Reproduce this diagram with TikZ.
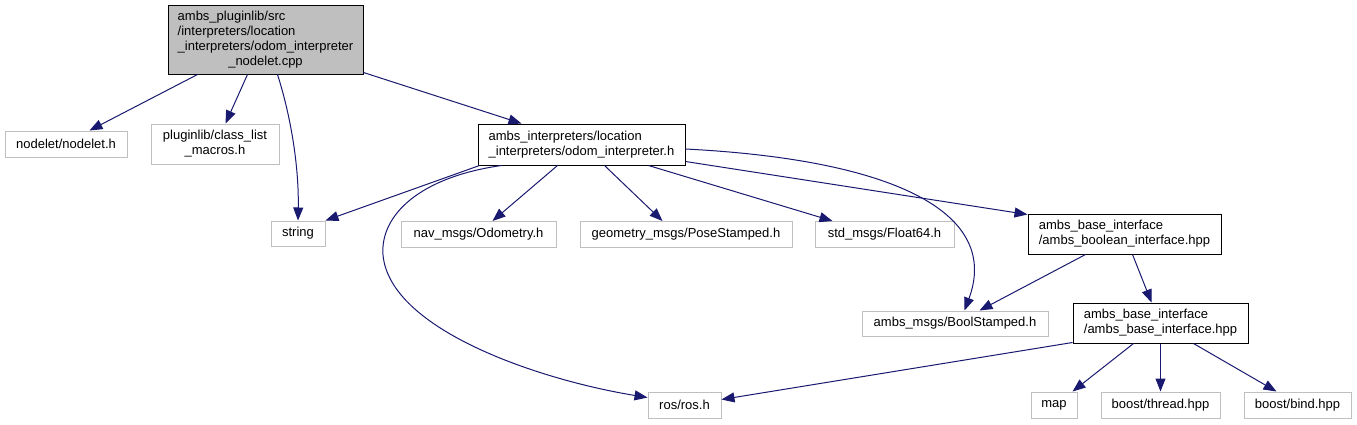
\documentclass[tikz,border=0pt]{standalone}
\usepackage{fontspec}
\setmainfont{Liberation Sans}
\usetikzlibrary{arrows.meta}
\definecolor{edgeblue}{HTML}{191970}
\definecolor{boxgray}{HTML}{BFBFBF}
\newcommand{\lastc}[1]{\multicolumn{1}{@{}c@{}}{#1}}
\tikzset{
  box/.style={draw=boxgray, line width=1pt, fill=white, inner sep=0pt, font=\fontsize{13}{15}\selectfont},
  dbox/.style={box, draw=black},
  rootbox/.style={box, draw=black, fill=boxgray},
  dep/.style={draw=edgeblue, line width=1pt, -{Triangle[length=13pt,width=10pt]}, edgeblue}
}
\begin{document}
\begin{tikzpicture}[x=1pt,y=-1pt]
\useasboundingbox (0,0) rectangle (1357,424);
% nodes
\node[rootbox, minimum width=195pt, minimum height=69pt] (root) at (265.5,39.5)
  {\begin{tabular}{@{}l@{}}ambs\_pluginlib/src\\/interpreters/location\\\_interpreters/odom\_interpreter\\\lastc{\_nodelet.cpp}\end{tabular}};
\node[box, minimum width=122pt, minimum height=26pt] (nodelet) at (66,144) {nodelet/nodelet.h};
\node[box, minimum width=128pt, minimum height=40pt] (macros) at (215,144)
  {\begin{tabular}{@{}l@{}}pluginlib/class\_list\\\lastc{\_macros.h}\end{tabular}};
\node[box, minimum width=54pt, minimum height=25pt] (string) at (298,233.5) {string};
\node[dbox, minimum width=207pt, minimum height=41pt] (interp) at (581.5,144.5)
  {\begin{tabular}{@{}l@{}}ambs\_interpreters/location\\\lastc{\_interpreters/odom\_interpreter.h}\end{tabular}};
\node[box, minimum width=155pt, minimum height=26pt] (nav) at (478.5,234.5) {nav\_msgs/Odometry.h};
\node[box, minimum width=212pt, minimum height=26pt] (geom) at (686,234.5) {geometry\_msgs/PoseStamped.h};
\node[box, minimum width=139pt, minimum height=26pt] (float) at (884.5,234.5) {std\_msgs/Float64.h};
\node[dbox, minimum width=193pt, minimum height=40pt] (boolif) at (1124.5,234)
  {\begin{tabular}{@{}l@{}}ambs\_base\_interface\\\lastc{/ambs\_boolean\_interface.hpp}\end{tabular}};
\node[box, minimum width=186pt, minimum height=25pt] (boolst) at (955,323.5) {ambs\_msgs/BoolStamped.h};
\node[dbox, minimum width=175pt, minimum height=40pt] (baseif) at (1160.5,323)
  {\begin{tabular}{@{}l@{}}ambs\_base\_interface\\\lastc{/ambs\_base\_interface.hpp}\end{tabular}};
\node[box, minimum width=73pt, minimum height=26pt] (ros) at (684.5,405) {ros/ros.h};
\node[box, minimum width=46pt, minimum height=26pt] (map) at (1054,405) {map};
\node[box, minimum width=119pt, minimum height=26pt] (thread) at (1160.5,405) {boost/thread.hpp};
\node[box, minimum width=107pt, minimum height=26pt] (bind) at (1297.5,405) {boost/bind.hpp};
% edges
\draw[dep] ([xshift=30pt]root.south west) -- ([xshift=85pt]nodelet.north west);
\draw[dep] ([xshift=80pt]root.south west) -- ([xshift=75pt]macros.north west);
\draw[dep] ([xshift=110pt]root.south west) .. controls (292,120) and (299,170) .. (string.north);
\draw[dep] ([yshift=2pt]root.south east) -- ([xshift=44pt]interp.north west);
\draw[dep] ([xshift=2pt]interp.south west) -- (string.north east);
\draw[dep] ([xshift=24pt]interp.south west) .. controls (420,177) and (380,215) .. (383,255)
  .. controls (390,330) and (540,380) .. ([yshift=-6pt]ros.north west);
\draw[dep] ([xshift=80pt]interp.south west) -- ([xshift=92pt]nav.north west);
\draw[dep] ([xshift=127pt]interp.south west) -- ([xshift=83pt]geom.north west);
\draw[dep] ([xshift=171pt]interp.south west) -- ([xshift=18pt]float.north west);
\draw[dep] ([yshift=4pt]interp.south east) -- ([yshift=-1pt]boolif.north west);
\draw[dep] ([yshift=-4.5pt]interp.east) .. controls (900,160) and (1000,215) .. ([xshift=103pt]boolst.north west);
\draw[dep] ([xshift=58pt]boolif.south west) -- ([xshift=118pt]boolst.north west);
\draw[dep] ([xshift=105pt]boolif.south west) -- ([xshift=79pt]baseif.north west);
\draw[dep] ([yshift=1pt]baseif.south west) -- ([yshift=-8pt]ros.north east);
\draw[dep] ([xshift=61pt]baseif.south west) -- ([xshift=42pt]map.north west);
\draw[dep] (baseif.south) -- (thread.north);
\draw[dep] ([xshift=121pt]baseif.south west) -- ([xshift=33pt]bind.north west);
\end{tikzpicture}
\end{document}
